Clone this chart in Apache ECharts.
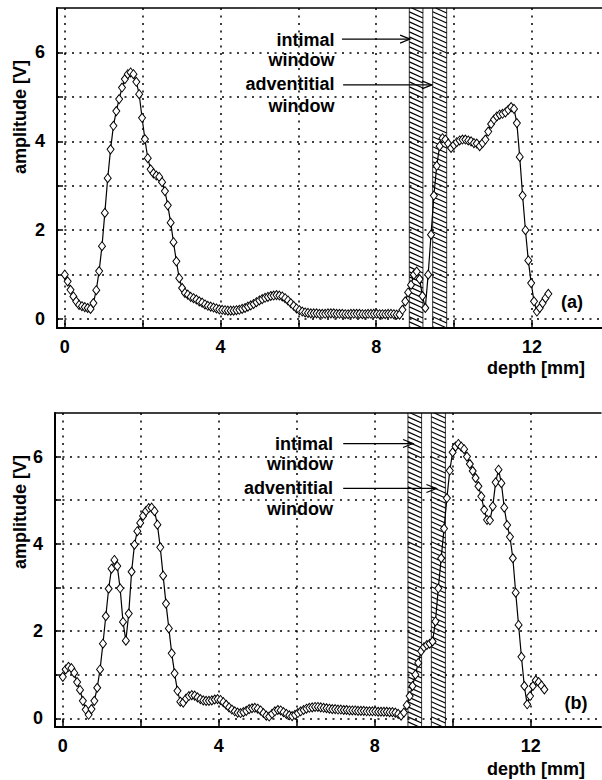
<!DOCTYPE html>
<html>
<head>
<meta charset="utf-8">
<script src="https://cdn.jsdelivr.net/npm/echarts@6/dist/echarts.min.js"></script>
<style>
html, body { margin: 0; padding: 0; background: #fff; }
#chart { width: 602px; height: 780px; }
</style>
</head>
<body>
<div id="chart"></div>
<script>
// Sampling interval along depth (mm); sample i sits at i * DEPTH_STEP.
const DEPTH_STEP = 0.0735;

// Echo amplitude (V), panel (a)
const amplitudeA = [
  1.00, 0.85, 0.66, 0.51, 0.40, 0.32, 0.29, 0.27, 0.25, 0.23,
  0.36, 0.65, 1.08, 1.64, 2.39, 3.17, 3.82, 4.35, 4.68, 4.95,
  5.21, 5.40, 5.51, 5.55, 5.51, 5.34, 5.06, 4.53, 4.05, 3.62,
  3.37, 3.28, 3.23, 3.20, 3.08, 2.88, 2.56, 2.17, 1.73, 1.30,
  0.92, 0.70, 0.59, 0.55, 0.50, 0.47, 0.44, 0.40, 0.37, 0.33,
  0.30, 0.28, 0.26, 0.24, 0.22, 0.21, 0.20, 0.19, 0.19, 0.19,
  0.20, 0.21, 0.23, 0.25, 0.28, 0.31, 0.34, 0.38, 0.42, 0.45,
  0.48, 0.50, 0.52, 0.53, 0.54, 0.53, 0.51, 0.47, 0.42, 0.36,
  0.30, 0.24, 0.20, 0.17, 0.15, 0.14, 0.13, 0.13, 0.13, 0.12,
  0.12, 0.12, 0.13, 0.13, 0.13, 0.12, 0.12, 0.12, 0.11, 0.11,
  0.12, 0.12, 0.12, 0.12, 0.11, 0.11, 0.12, 0.12, 0.12, 0.12,
  0.11, 0.11, 0.11, 0.12, 0.12, 0.11, 0.10, 0.10,
  0.21, 0.40, 0.60, 0.77, 1.00, 1.07, 0.90, 0.52, 0.25, 1.00,
  1.90, 2.78, 3.45, 3.89, 4.07, 4.04, 3.95, 3.85, 3.92, 3.98,
  4.02, 4.04, 4.04, 4.02, 4.00, 3.96, 3.95, 3.89, 3.96, 4.04,
  4.22, 4.39, 4.49, 4.56, 4.60, 4.62, 4.65, 4.71, 4.77, 4.73,
  4.41, 3.65, 2.78, 2.00, 1.32, 0.81, 0.40, 0.17, 0.25, 0.36,
  0.47, 0.57
];

// Echo amplitude (V), panel (b)
const amplitudeB = [
  0.95, 1.12, 1.18, 1.15, 1.04, 0.83, 0.65, 0.40, 0.20, 0.08,
  0.21, 0.40, 0.70, 1.12, 1.71, 2.34, 2.97, 3.43, 3.63, 3.49,
  2.98, 2.21, 1.78, 2.40, 3.36, 3.98, 4.29, 4.48, 4.64, 4.75,
  4.82, 4.83, 4.75, 4.44, 3.92, 3.27, 2.63, 2.06, 1.49, 1.03,
  0.63, 0.38, 0.36, 0.45, 0.51, 0.53, 0.52, 0.48, 0.44, 0.41,
  0.40, 0.40, 0.41, 0.43, 0.44, 0.42, 0.37, 0.31, 0.25, 0.20,
  0.16, 0.13, 0.12, 0.14, 0.17, 0.21, 0.23, 0.24, 0.22, 0.18,
  0.12, 0.06, 0.04, 0.10, 0.16, 0.19, 0.18, 0.14, 0.10, 0.07,
  0.05, 0.08, 0.12, 0.16, 0.19, 0.22, 0.24, 0.25, 0.26, 0.26,
  0.25, 0.24, 0.23, 0.22, 0.21, 0.21, 0.20, 0.20, 0.19, 0.19,
  0.18, 0.18, 0.18, 0.17, 0.17, 0.17, 0.16, 0.16, 0.16, 0.16,
  0.15, 0.15, 0.15, 0.15, 0.14, 0.14, 0.13, 0.10, 0.06,
  0.13, 0.30, 0.51, 0.74, 1.00, 1.27, 1.54, 1.63, 1.68, 1.71,
  1.76, 2.22, 2.98, 3.67, 4.35, 5.05, 5.68, 6.10, 6.23, 6.29,
  6.23, 6.17, 6.00, 5.83, 5.67, 5.51, 5.32, 5.09, 4.78, 4.55,
  4.54, 4.86, 5.41, 5.70, 5.39, 4.83, 4.43, 4.16, 3.67, 2.88,
  2.14, 1.41, 0.74, 0.32, 0.51, 0.74, 0.87, 0.83, 0.75, 0.66
];

// Axis ticks and labels
const depthTicks = [0, 2, 4, 6, 8, 10, 12];
const depthLabels = [0, 4, 8, 12];
const ampTicks = [0, 1, 2, 3, 4, 5, 6];
const ampLabels = [0, 2, 4, 6];

// Gating windows (depth range, mm)
const intimalWindow = [8.85, 9.2];
const adventitialWindow = [9.45, 9.81];

// Window callouts: [text right edge (mm), arrow tip (mm), height (V)] per panel
const calloutArrowsA = [[7.12, 8.87, 6.3], [7.15, 9.43, 5.27]];
const calloutArrowsB = [[7.19, 8.98, 6.3], [7.19, 9.58, 5.27]];
const calloutText = ['intimal', 'window', 'adventitial', 'window'];
const calloutTextY = [6.28, 5.84, 5.28, 4.8];
const calloutTextX = 6.93;

const X_MIN = -0.2, X_MAX = 13.8;
const Y_MIN = -0.2, Y_MAX = 7;
const FONT = '"Liberation Sans", Arial, Helvetica, sans-serif';

function toPoints(values) {
  return values.map((v, i) => [i * DEPTH_STEP, v]);
}

function renderHatch(params, api) {
  const x0 = api.value(0), x1 = api.value(1);
  const tl = api.coord([x0, Y_MAX]);
  const br = api.coord([x1, Y_MIN]);
  const L = tl[0], R = br[0], T = tl[1], B = br[1];
  const drop = (R - L) * 0.45;
  const gap = 5;
  const children = [];
  for (let y = T - drop; y < B; y += gap) {
    let t0 = 0, t1 = 1;
    if (y < T) t0 = (T - y) / drop;
    if (y + drop > B) t1 = (B - y) / drop;
    if (t1 <= t0) continue;
    children.push({
      type: 'line',
      shape: { x1: L + t0 * (R - L), y1: y + t0 * drop, x2: L + t1 * (R - L), y2: y + t1 * drop },
      style: { stroke: '#000', lineWidth: 1.2 }
    });
  }
  children.push({ type: 'line', shape: { x1: L, y1: T, x2: L, y2: B }, style: { stroke: '#000', lineWidth: 0.8 } });
  children.push({ type: 'line', shape: { x1: R, y1: T, x2: R, y2: B }, style: { stroke: '#000', lineWidth: 0.8 } });
  return { type: 'group', children: children };
}

function renderCallout(params, api) {
  const tail = api.coord([api.value(0), api.value(2)]);
  const tip = api.coord([api.value(1), api.value(2)]);
  return {
    type: 'group',
    children: [
      { type: 'line', shape: { x1: tail[0], y1: tail[1], x2: tip[0], y2: tip[1] }, style: { stroke: '#000', lineWidth: 1.2 } },
      { type: 'polyline', shape: { points: [[tip[0] - 10, tip[1] - 4], [tip[0], tip[1]], [tip[0] - 10, tip[1] + 4]] }, style: { stroke: '#000', lineWidth: 1.2, fill: null } }
    ]
  };
}

function renderCalloutText(params, api) {
  const p = api.coord([calloutTextX, calloutTextY[params.dataIndex]]);
  return {
    type: 'text',
    x: p[0], y: p[1],
    style: {
      text: calloutText[params.dataIndex],
      align: 'right', verticalAlign: 'middle',
      font: 'bold 18px ' + FONT, fill: '#000'
    }
  };
}

const dotted = { color: '#000', width: 1.5, type: [2, 5.5] };

function makeXAxis(gridIndex) {
  return {
    type: 'value', gridIndex: gridIndex, min: X_MIN, max: X_MAX,
    axisLine: { show: true, onZero: false, lineStyle: { color: '#000', width: 2 } },
    axisTick: { show: true, inside: true, length: 8, customValues: depthTicks, lineStyle: { color: '#000', width: 1.5 } },
    axisLabel: { customValues: depthLabels, margin: 10, color: '#000', fontSize: 18, fontWeight: 'bold', fontFamily: FONT },
    splitLine: { show: true, lineStyle: dotted }
  };
}

function makeTopFrame(gridIndex) {
  return {
    type: 'value', gridIndex: gridIndex, min: X_MIN, max: X_MAX, position: 'top',
    axisLine: { show: true, onZero: false, lineStyle: { color: '#000', width: 1.5 } },
    axisTick: { show: false }, axisLabel: { show: false }, splitLine: { show: false }
  };
}

function makeYAxis(gridIndex) {
  return {
    type: 'value', gridIndex: gridIndex, min: Y_MIN, max: Y_MAX,
    axisLine: { show: true, onZero: false, lineStyle: { color: '#000', width: 2 } },
    axisTick: { show: true, inside: true, length: 6, customValues: ampTicks, lineStyle: { color: '#000', width: 1.5 } },
    axisLabel: { customValues: ampLabels, margin: 12, color: '#000', fontSize: 18, fontWeight: 'bold', fontFamily: FONT },
    splitLine: { show: true, lineStyle: dotted }
  };
}

function panelSeries(idx, values, arrows) {
  return [
    {
      type: 'custom', xAxisIndex: idx, yAxisIndex: idx, renderItem: renderHatch,
      encode: { x: [0, 1] }, data: [intimalWindow, adventitialWindow], silent: true, z: 2
    },
    {
      type: 'custom', xAxisIndex: idx, yAxisIndex: idx, renderItem: renderCallout,
      encode: { x: [0, 1], y: 2 }, data: arrows, silent: true, z: 3
    },
    {
      type: 'custom', xAxisIndex: idx, yAxisIndex: idx, renderItem: renderCalloutText,
      data: calloutTextY.map(y => [calloutTextX, y]), silent: true, z: 3
    },
    {
      type: 'line', xAxisIndex: idx, yAxisIndex: idx, data: toPoints(values),
      symbol: 'diamond', symbolSize: [7, 9], showAllSymbol: true,
      lineStyle: { color: '#000', width: 1.2 },
      itemStyle: { color: '#fff', borderColor: '#000', borderWidth: 1 },
      z: 4
    }
  ];
}

function label(text, x, y, align, rotation) {
  return {
    type: 'text', x: x, y: y, rotation: rotation || 0,
    style: { text: text, align: align, verticalAlign: 'middle', font: 'bold 18px ' + FONT, fill: '#000' }
  };
}

const chart = echarts.init(document.getElementById('chart'), null, { renderer: 'svg' });
chart.setOption({
  animation: false,
  backgroundColor: '#fff',
  grid: [
    { left: 57, top: 8, width: 545, height: 320 },
    { left: 55, top: 413, width: 546, height: 314 }
  ],
  xAxis: [makeXAxis(0), makeXAxis(1), makeTopFrame(0), makeTopFrame(1)],
  yAxis: [makeYAxis(0), makeYAxis(1)],
  series: [].concat(
    panelSeries(0, amplitudeA, calloutArrowsA),
    panelSeries(1, amplitudeB, calloutArrowsB)
  ),
  graphic: [
    label('amplitude [V]', 20, 117, 'center', Math.PI / 2),
    label('amplitude [V]', 20, 512, 'center', Math.PI / 2),
    label('depth [mm]', 585, 368, 'right'),
    label('depth [mm]', 585, 769, 'right'),
    label('(a)', 572, 302, 'center'),
    label('(b)', 576, 703, 'center')
  ]
});
</script>
</body>
</html>
